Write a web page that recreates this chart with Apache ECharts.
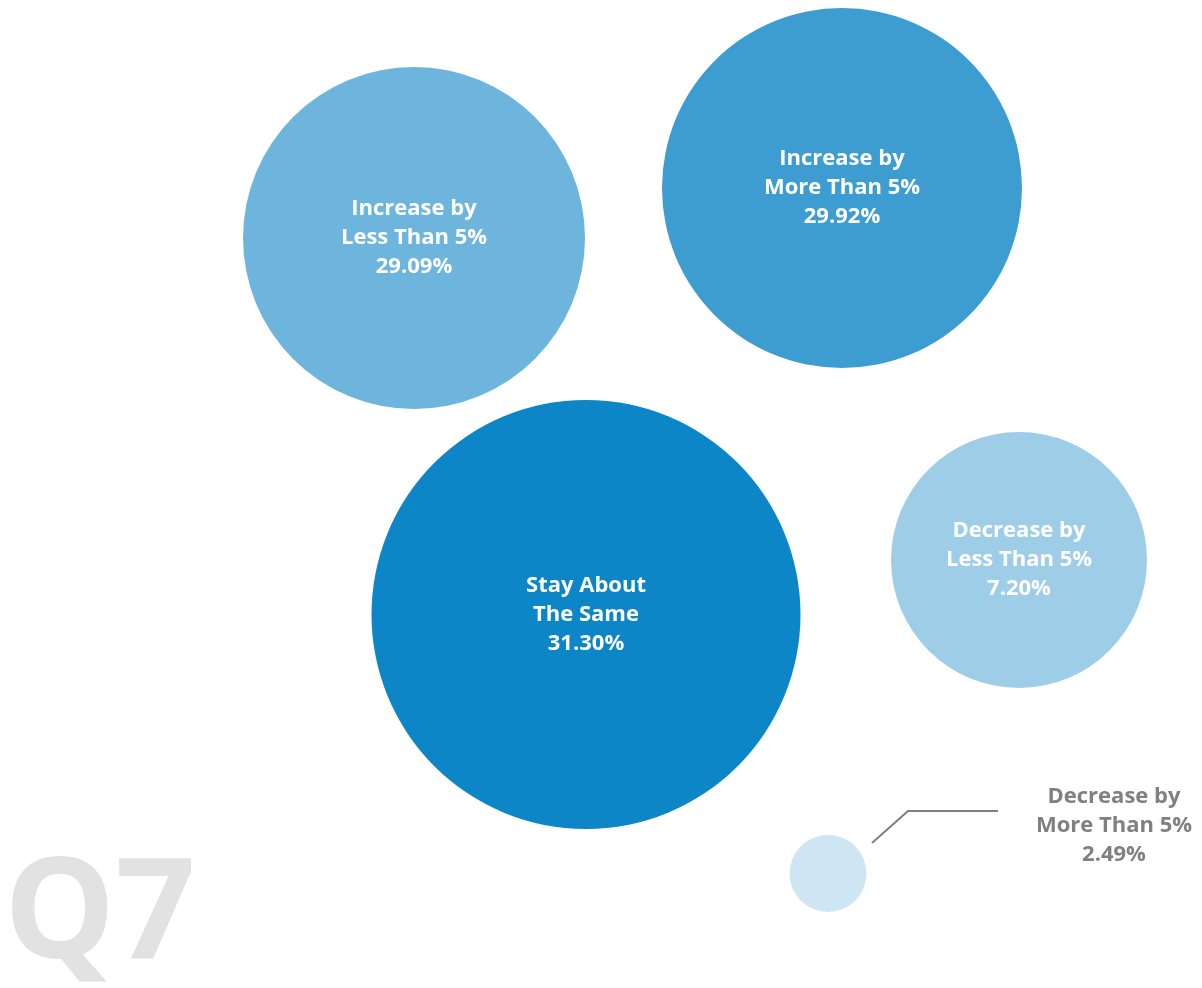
<!DOCTYPE html>
<html>
<head>
<meta charset="utf-8">
<script src="https://cdn.jsdelivr.net/npm/echarts@6/dist/echarts.min.js"></script>
<style>html,body{margin:0;padding:0;background:#fff}#c{width:1202px;height:988px}</style>
</head>
<body>
<div id="c"></div>
<script>
// ---- data ----
var categories = ['Increase by\nLess Than 5%', 'Increase by\nMore Than 5%', 'Stay About\nThe Same', 'Decrease by\nLess Than 5%', 'Decrease by\nMore Than 5%'];
var values = [29.09, 29.92, 31.30, 7.20, 2.49];
// bubble layout (in the hidden axes' data space) and bubble radii
var bubbleX = [414, 842, 586, 1019, 828];
var bubbleY = [238, 188, 614.5, 560, 873.5];
var bubbleR = [171, 180, 214.5, 128, 38.5];
var colors = ['#6db5dc', '#3d9dd1', '#0c86c6', '#9ecee7', '#cee6f3'];
var title = 'Q7';

var chart = echarts.init(document.getElementById('c'), null, {renderer: 'canvas'});
var seriesData = categories.map(function (c, i) {
  var outside = i === 4;
  return {
    name: c,
    value: [bubbleX[i], bubbleY[i], values[i]],
    symbolSize: bubbleR[i] * 2,
    itemStyle: {color: colors[i], opacity: 1},
    label: outside ? {
      position: 'inside',
      offset: [286, -48],
      color: '#808080'
    } : {}
  };
});

chart.setOption({
  animation: false,
  grid: {left: 0, right: 0, top: 0, bottom: 0},
  xAxis: {type: 'value', min: 0, max: 1202, show: false},
  yAxis: {type: 'value', min: 0, max: 988, inverse: true, show: false},
  series: [{
    type: 'scatter',
    symbol: 'circle',
    data: seriesData,
    itemStyle: {opacity: 1},
    label: {
      show: true,
      position: 'inside',
      color: '#ffffff',
      fontFamily: 'Open Sans',
      fontWeight: 'bold',
      fontSize: 22,
      lineHeight: 29,
      align: 'center',
      formatter: function (p) { return p.name + '\n' + p.value[2].toFixed(2) + '%'; }
    },
    emphasis: {disabled: true}
  }]
});

function px(x, y) { return chart.convertToPixel({gridIndex: 0}, [x, y]); }
var p1 = px(872, 843), p2 = px(908, 811), p3 = px(998, 811);
var q = px(4, 918);
chart.setOption({
  graphic: [
    {type: 'polyline', shape: {points: [p1, p2, p3]}, style: {stroke: '#7f7f7f', lineWidth: 2, fill: null}, silent: true},
    {type: 'text', x: q[0], y: q[1], style: {text: title, font: 'bold 140px "Open Sans"', fill: '#e2e2e2', align: 'left', verticalAlign: 'middle'}, z: -1, silent: true}
  ]
});
</script>
</body>
</html>
